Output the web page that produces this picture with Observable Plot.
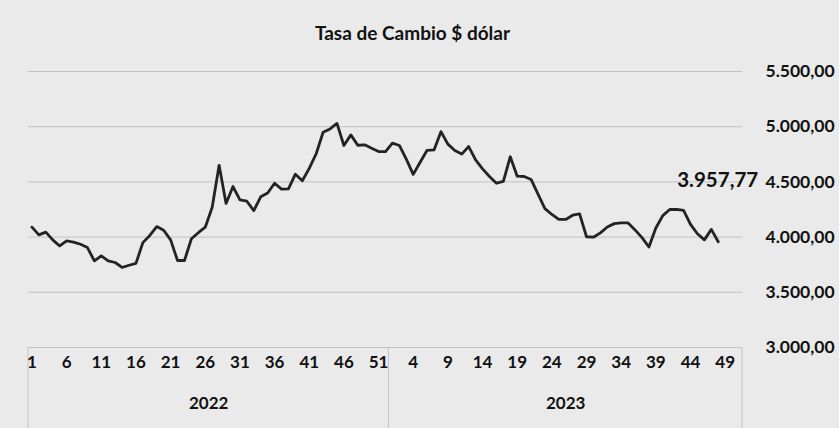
<!DOCTYPE html>
<html><head><meta charset="utf-8">
<script src="https://cdn.jsdelivr.net/npm/d3@7"></script>
<script src="https://cdn.jsdelivr.net/npm/@observablehq/plot@0.6"></script>
<style>
body{margin:0;background:#eaeaea;width:839px;height:428px;overflow:hidden;font-family:Lato,"Open Sans",sans-serif;}
#title{height:27px;padding-top:23px;line-height:20px;text-align:center;padding-right:14px;font-weight:bold;font-size:19px;color:#111;}
#chart svg{display:block;background:transparent;}
</style></head><body>
<div id="title">Tasa de Cambio $ dólar</div>
<div id="chart"></div>
<script>
// Categories (weeks) per year
const weeks2022 = d3.range(1, 53);   // 1..52
const weeks2023 = d3.range(1, 52);   // 1..51 (axis categories)
const years = ["2022", "2023"];
// Weekly values
const values2022 = [4090,4020,4045,3975,3920,3965,3955,3935,3905,3785,3830,3785,3770,3725,3745,3762,3950,4015,4095,4062,
  3975,3788,3788,3985,4040,4090,4270,4650,4305,4458,4337,4325,4240,4365,4400,4488,4435,4437,4570,4510,
  4622,4755,4950,4980,5030,4830,4926,4832,4836,4804,4775,4775];
const values2023 = [4851,4830,4706,4568,4678,4786,4790,4955,4842,4784,4752,4820,4700,4618,4549,4488,4504,4728,4552,4549,
  4522,4390,4258,4205,4160,4160,4198,4210,4003,3999,4038,4092,4122,4128,4128,4065,3995,3910,4082,4195,
  4250,4252,4242,4115,4030,3975,4070,3957.77];
const yTicks = [3000,3500,4000,4500,5000,5500];
const lastLabel = "3.957,77";

const categories = weeks2022.concat(weeks2023);
const data = [
  ...values2022.map((v, k) => ({i: k, v})),
  ...values2023.map((v, k) => ({i: weeks2022.length + k, v}))
];
const groups = [
  {year: years[0], start: 0, n: weeks2022.length},
  {year: years[1], start: weeks2022.length, n: weeks2023.length}
];
const bounds = [-0.5, weeks2022.length - 0.5, categories.length - 0.5];

const loc = d3.formatLocale({decimal: ",", thousands: ".", grouping: [3], currency: ["", ""]});
const fmt = loc.format(",.2f");

const boxLines = (index, scales, values, dimensions) => {
  const g = d3.create("svg:g");
  const y0 = dimensions.height - dimensions.marginBottom;
  for (const b of bounds) {
    const x = scales.x(b);
    g.append("line").attr("x1", x).attr("x2", x).attr("y1", y0).attr("y2", dimensions.height)
      .attr("stroke", "#c6c6c6").attr("stroke-width", 1);
  }
  return g.node();
};

const chart = Plot.plot({
  width: 839,
  height: 378,
  marginTop: 21,
  marginBottom: 81,
  marginLeft: 28,
  marginRight: 97,
  style: {background: "transparent", fontFamily: "Lato, 'Open Sans', sans-serif", color: "#111"},
  x: {type: "linear", domain: [bounds[0], bounds[2]]},
  y: {domain: [3000, 5500]},
  marks: [
    Plot.ruleY(yTicks, {stroke: "#c2c2c2", strokeWidth: 1}),
    boxLines,
    Plot.axisY({anchor: "right", ticks: yTicks, tickSize: 0, tickPadding: 23, tickFormat: fmt,
      fontSize: 17.5, fontWeight: "bold", label: null}),
    Plot.axisX({ticks: d3.range(0, categories.length - 1, 5), tickSize: 0, tickPadding: 8,
      tickFormat: i => categories[i], fontSize: 17, fontWeight: "bold", label: null}),
    Plot.text(groups, {x: d => d.start + d.n / 2 - 0.5, text: "year", frameAnchor: "bottom", dy: 61,
      fontSize: 17, fontWeight: "bold", fill: "#111"}),
    Plot.line(data, {x: "i", y: "v", stroke: "#232323", strokeWidth: 2.8, strokeLinejoin: "round"}),
    Plot.text([data[data.length - 1]], {x: "i", y: "v", text: () => lastLabel, dx: 40, dy: -61,
      textAnchor: "end", fontSize: 20.5, fontWeight: "bold", fill: "#111"})
  ]
});
document.getElementById("chart").appendChild(chart);
</script>
</body></html>
